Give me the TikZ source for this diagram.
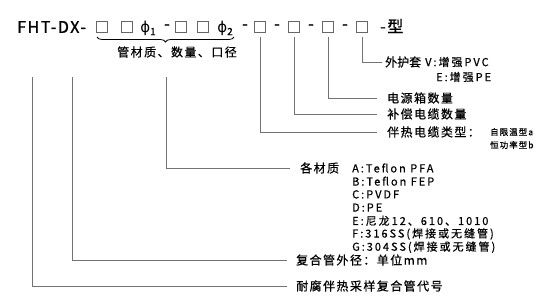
\documentclass[tikz,border=0pt]{standalone}
\usepackage{fontspec}
\usepackage{tikz}
\usetikzlibrary{decorations.pathreplacing}
\newfontfamily\cjk[LetterSpace=12,FakeBold=0.6]{Noto Sans CJK SC}
\newfontfamily\cjktight[FakeBold=0.6]{Noto Sans CJK SC}
\newfontfamily\cjkitem[LetterSpace=18,FakeBold=0.6]{Noto Sans CJK SC}
\newfontfamily\cjkcode[LetterSpace=10,FakeBold=1.2]{Noto Sans CJK SC}
\newfontfamily\phifont{DejaVu Sans}
\newcommand{\phisub}[1]{{\phifont\fontsize{15}{16}\selectfont ϕ}\raisebox{-3pt}{\fontsize{10}{10}\selectfont #1}}
\tikzset{
  cell/.style={draw=black!60,line width=0.9pt,minimum width=11pt,minimum height=10.5pt,inner sep=0pt},
  code/.style={inner sep=0pt,font=\cjkcode\fontsize{16}{17}\selectfont},
  lbl/.style={anchor=west,inner sep=0pt,font=\cjk\fontsize{12}{14}\selectfont},
  item/.style={anchor=west,inner sep=0pt,font=\cjkitem\fontsize{11}{13}\selectfont},
  small/.style={anchor=west,inner sep=0pt,font=\cjk\fontsize{8.5}{10}\selectfont},
  lead/.style={draw=black!55,line width=0.9pt}
}

\begin{document}
\begin{tikzpicture}[x=1pt,y=-1pt]
\useasboundingbox[fill=white] (0,0) rectangle (560,295);
\node[code,anchor=west] (fht) at (17,27) {FHT-DX-};
\node[cell] (b1) at (102,27) {};
\node[cell] (b2) at (127,27) {};
\node[code] (p1) at (148,28) {\phisub{1}};
\node[code] (d1) at (167,27) {-};
\node[cell] (b3) at (181,27) {};
\node[cell] (b4) at (203,27) {};
\node[code] (p2) at (225,28) {\phisub{2}};
\node[code] (d2) at (245,27) {-};
\node[cell] (b5) at (260,27) {};
\node[code] (d3) at (277,27) {-};
\node[cell] (b6) at (294,27) {};
\node[code] (d4) at (311,27) {-};
\node[cell] (b7) at (328,27) {};
\node[code] (d5) at (345,27) {-};
\node[cell] (b8) at (362,27) {};
\node[code,anchor=west] (xing) at (380,26) {-型};
\draw[line width=0.8pt,decorate,decoration={brace,amplitude=5pt,mirror}] (97,37) -- (234,37);
\node[lbl,anchor=center] (bt) at (177,52) {管材质、数量、口径};
\coordinate (cf) at (32,77);
\coordinate (cd) at (72,77);
\coordinate (cb) at (166,77);
% labels
\node[lbl,font=\cjktight\fontsize{12}{14}\selectfont] (t8) at (385,62) {外护套};
\node[item] (v8) at (425,62) {V:增强PVC};
\node[item] (e8) at (436,77) {E:增强PE};
\node[lbl] (t7) at (387,98) {电源箱数量};
\node[lbl] (t6) at (387,114) {补偿电缆数量};
\node[lbl] (t5) at (387,132) {伴热电缆类型：};
\node[small] (a5) at (490,132) {自限温型a};
\node[small] (b5t) at (490,145) {恒功率型b};
\node[lbl] (t4) at (300,168) {各材质};
\foreach \t [count=\i from 0] in {A:Teflon PFA,B:Teflon FEP,C:PVDF,D:PE,E:尼龙12、610、1010,F:316SS(焊接或无缝管),G:304SS(焊接或无缝管)}
  \node[item] (m\i) at (352,168+13.2*\i) {\t};
\node[lbl] (t3) at (296,260) {复合管外径：单位mm};
\node[lbl] (t2) at (296,286) {耐腐伴热采样复合管代号};
% leaders
\draw[lead] ([yshift=-4pt]b8.south) |- ([xshift=-3pt]t8.west);
\draw[lead] ([yshift=-4pt]b7.south) |- ([xshift=-10pt]t7.west);
\draw[lead] ([yshift=-4pt]b6.south) |- ([xshift=-10pt]t6.west);
\draw[lead] ([yshift=-4pt]b5.south) |- ([xshift=-10pt]t5.west);
\draw[lead] (cb) |- ([xshift=-10pt]t4.west);
\draw[lead] (cd) |- ([xshift=-9pt]t3.west);
\draw[lead] (cf) |- ([xshift=-9pt]t2.west);
\end{tikzpicture}
\end{document}
